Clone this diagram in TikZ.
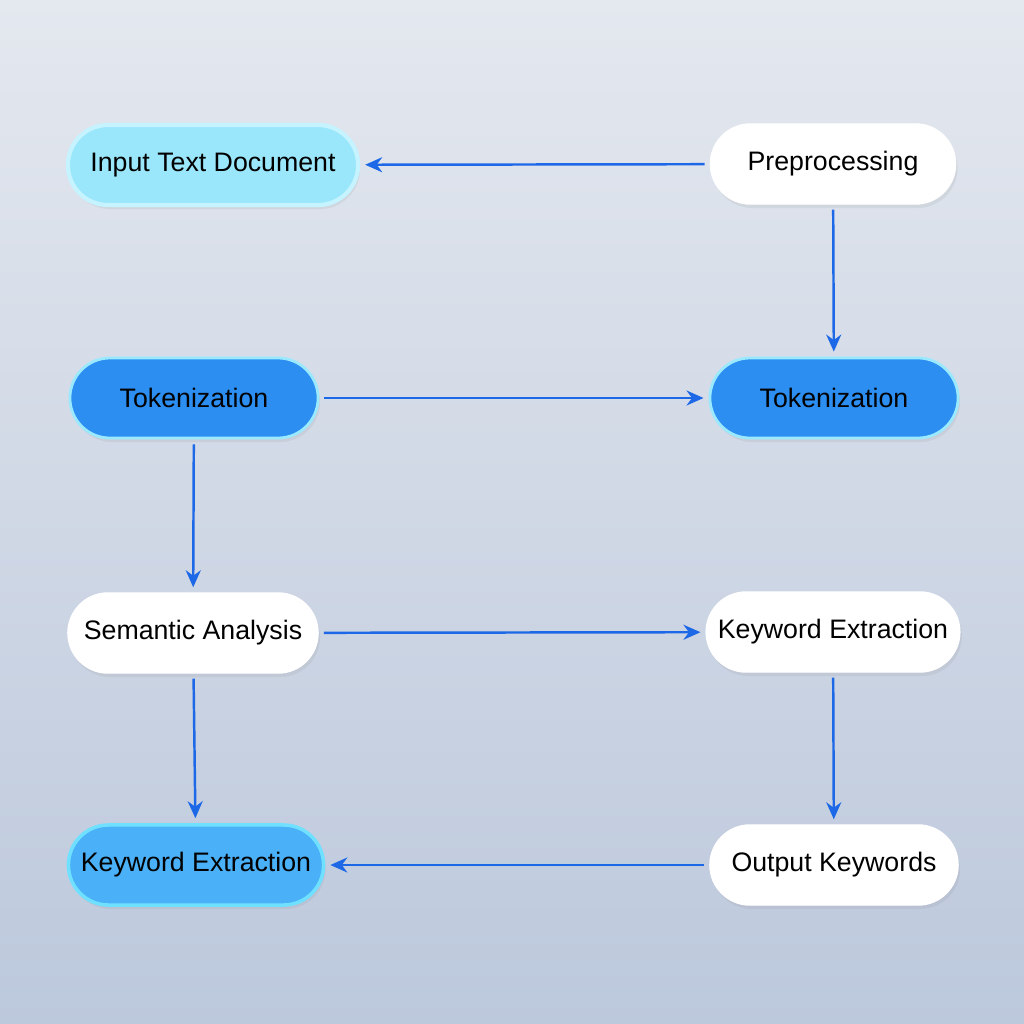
\documentclass[tikz,border=0pt]{standalone}
\usepackage{fontspec}
\setmainfont{Liberation Sans}
\usepackage{tikz}
\usetikzlibrary{positioning,arrows.meta,shadows}

\definecolor{bgtop}{HTML}{E4E8EF}
\definecolor{bgbot}{HTML}{BCC8DC}
\definecolor{flow}{HTML}{1C68E6}
\definecolor{tokblue}{HTML}{2C8EF0}
\definecolor{keyblue}{HTML}{4AB0F7}
\definecolor{inputcyan}{HTML}{9AE6FB}
\definecolor{glow}{HTML}{6FE0FF}

\tikzset{
  stage/.style={rounded corners=0.4cm, minimum width=2.48cm, minimum height=0.8cm,
    font=\fontsize{7.6}{9}\selectfont, text=black,
    drop shadow={opacity=0.12, shadow xshift=0.02cm, shadow yshift=-0.04cm}},
  plainstage/.style={stage, fill=white, draw=white},
  tokstage/.style={stage, fill=tokblue, draw=glow!70, line width=0.8pt},
  keystage/.style={stage, fill=keyblue, draw=glow, line width=1pt},
  inputstage/.style={stage, fill=inputcyan, draw=glow!40!white, line width=1.2pt},
  flowarrow/.style={->, >={Stealth[length=0.17cm,width=0.15cm]}, draw=flow, line width=0.7pt,
    shorten <=0.05cm, shorten >=0.05cm}
}

\begin{document}
\begin{tikzpicture}[x=0.01cm,y=-0.01cm]
  \shade[top color=bgtop, bottom color=bgbot] (0,0) rectangle (1024,1024);
  \useasboundingbox (0,0) rectangle (1024,1024);

  \node[inputstage, minimum width=2.9cm] (input) at (213,165) {Input Text Document};
  \node[plainstage, minimum width=2.45cm] (prep) at (833,164) {Preprocessing};
  \node[tokstage]  (tokL)   at (194,398) {Tokenization};
  \node[tokstage]  (tokR)   at (834,398) {Tokenization};
  \node[plainstage, minimum width=2.5cm] (sem) at (193,633) {Semantic Analysis};
  \node[plainstage, minimum width=2.5cm] (keyR) at (833,632) {Keyword Extraction};
  \node[keystage, minimum width=2.55cm] (keyL) at (196,865) {Keyword Extraction};
  \node[plainstage]  (out)   at (834,865) {Output Keywords};

  % horizontal flow
  \draw[flowarrow] (prep) -- (input);
  \draw[flowarrow] (tokL) -- (tokR);
  \draw[flowarrow] (sem)  -- (keyR);
  \draw[flowarrow] (out)  -- (keyL);
  % vertical flow
  \draw[flowarrow] (prep) -- (tokR);
  \draw[flowarrow] (tokL) -- (sem);
  \draw[flowarrow] (sem)  -- (keyL);
  \draw[flowarrow] (keyR) -- (out);
\end{tikzpicture}
\end{document}
